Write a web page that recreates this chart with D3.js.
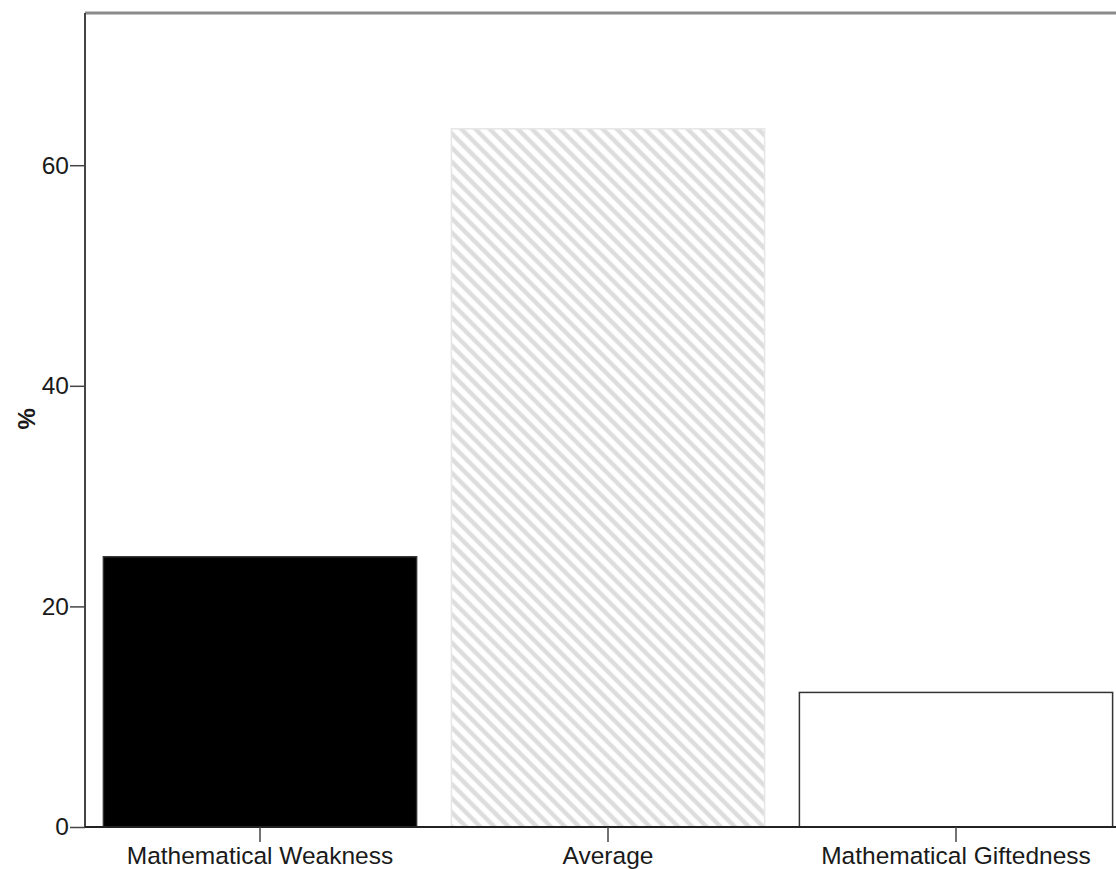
<!DOCTYPE html>
<html><head><meta charset="utf-8">
<script src="https://cdn.jsdelivr.net/npm/d3@7"></script>
<style>body{margin:0;background:#fff}text{font-family:"Liberation Sans",Arial,sans-serif}</style>
</head><body>
<svg id="c" width="1116" height="869"></svg>
<script>
const categories = ["Mathematical Weakness", "Average", "Mathematical Giftedness"];
const values = [24.5, 63.3, 12.2];
const yTicks = [0, 20, 40, 60];
const yLabel = "%";

const svg = d3.select("#c");
const plotLeft = 85, plotTop = 13, plotBottom = 827;
const x = d3.scaleBand().domain(categories).range([86, 1130]).paddingInner(0.1).paddingOuter(0.05);
const y = d3.scaleLinear().domain([0, 73.8]).range([plotBottom, plotTop]);

const defs = svg.append("defs");
const P = 10;
const pat = defs.append("pattern").attr("id", "hatch").attr("patternUnits", "userSpaceOnUse")
  .attr("width", P).attr("height", P).attr("patternTransform", "rotate(-45)");
pat.append("rect").attr("width", P).attr("height", P).attr("fill", "#fff");
pat.append("line").attr("x1", P / 2).attr("y1", 0).attr("x2", P / 2).attr("y2", P)
  .attr("stroke", "#dddddd").attr("stroke-width", 4.5);

const fills = ["#000", "url(#hatch)", "#fff"];
const strokes = ["#333", "#e6e6e6", "#333"];

svg.selectAll("rect.bar").data(values).join("rect").attr("class", "bar")
  .attr("x", (d, i) => x(categories[i]))
  .attr("width", x.bandwidth())
  .attr("y", d => y(d))
  .attr("height", d => y(0) - y(d))
  .attr("fill", (d, i) => fills[i])
  .attr("stroke", (d, i) => strokes[i])
  .attr("stroke-width", 1.5);

svg.append("line").attr("x1", plotLeft).attr("x2", 1116).attr("y1", plotTop).attr("y2", plotTop)
  .attr("stroke", "#8a8a8a").attr("stroke-width", 3);

const yAxis = svg.append("g").attr("transform", `translate(${plotLeft},0)`)
  .call(d3.axisLeft(y).tickValues(yTicks).tickSize(15).tickPadding(1).tickFormat(d3.format("d")));
yAxis.select(".domain").attr("d", `M0,${plotTop}V${plotBottom}`).attr("stroke", "#444").attr("stroke-width", 2);
yAxis.selectAll(".tick line").attr("stroke", "#444").attr("stroke-width", 1.5);
yAxis.selectAll(".tick text").attr("font-size", 24.5).attr("fill", "#1a1a1a").attr("font-family", "Liberation Sans, Arial, sans-serif");

const xAxis = svg.append("g").attr("transform", `translate(0,${plotBottom})`)
  .call(d3.axisBottom(x).tickSize(15).tickPadding(5));
xAxis.select(".domain").attr("d", `M${plotLeft},0H1116`).attr("stroke", "#222").attr("stroke-width", 2);
xAxis.selectAll(".tick line").attr("stroke", "#444").attr("stroke-width", 1.5);
xAxis.selectAll(".tick text").attr("font-size", 24.5).attr("fill", "#1a1a1a").attr("font-family", "Liberation Sans, Arial, sans-serif");

svg.append("text").text(yLabel)
  .attr("transform", `translate(35,${y(40) + 33}) rotate(-90)`)
  .attr("text-anchor", "middle").attr("font-size", 24).attr("font-weight", "bold").attr("fill", "#1a1a1a");
</script>
</body></html>
